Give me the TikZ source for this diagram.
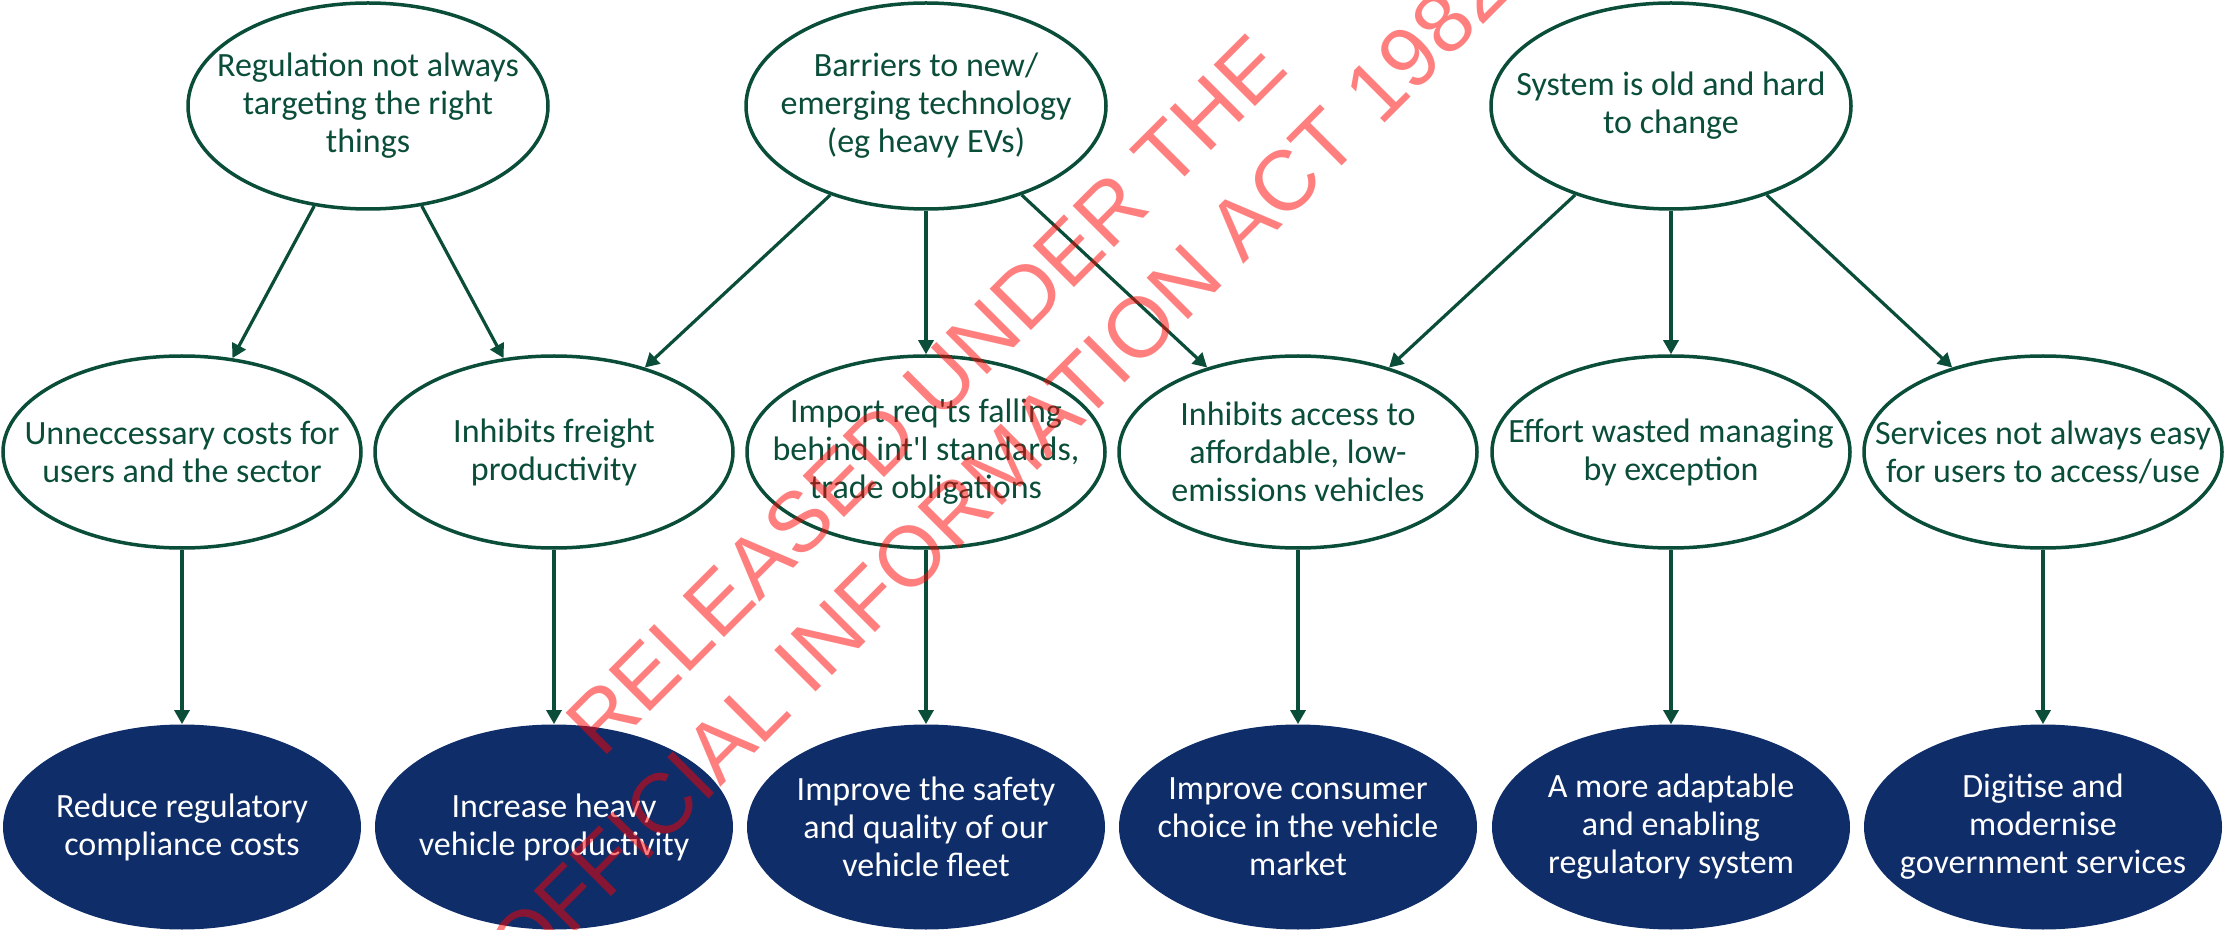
\documentclass[tikz,border=0pt]{standalone}
\usepackage{fontspec}
\setmainfont{Carlito}
\newfontfamily\stampfont{Liberation Sans}
\usetikzlibrary{shapes.geometric,arrows.meta}
\definecolor{dkgreen}{HTML}{0A4D38}
\definecolor{navy}{HTML}{0F2D69}
\begin{document}
\begin{tikzpicture}[x=0.5pt,y=-0.5pt,
  issuetop/.style={ellipse, draw=dkgreen, line width=1.75pt, fill=white,
    minimum width=180pt, minimum height=103pt, inner sep=0pt},
  issuemid/.style={ellipse, draw=dkgreen, line width=1.75pt, fill=white,
    minimum width=179pt, minimum height=96pt, inner sep=0pt},
  outcome/.style={ellipse, fill=navy, draw=none,
    minimum width=179pt, minimum height=102.5pt, inner sep=0pt},
  greentext/.style={text=dkgreen, align=center, inner sep=0pt,
    font=\fontsize{17}{19}\selectfont},
  whitetext/.style={text=white, align=center, inner sep=0pt,
    font=\fontsize{17}{19}\selectfont},
  conn/.style={draw=dkgreen, line width=1.6pt,
    -{Triangle[width=7.5pt,length=7pt]}},
  stamp/.style={text=red, text opacity=0.5, inner sep=0pt, rotate=45,
    anchor=base west, font=\stampfont\fontsize{42.5}{42.5}\selectfont}
]
\useasboundingbox (0,0) rectangle (2228,930);

% problem statements (top row)
\node[issuetop] (e1) at (368,106) {};
\node[issuetop] (e2) at (926,106) {};
\node[issuetop] (e3) at (1671,106) {};
\node[greentext] (e1t) at (e1) {Regulation not always\\targeting the right\\things};
\node[greentext] (e2t) at (e2) {Barriers to new/\\emerging technology\\(eg heavy EVs)};
\node[greentext] (e3t) at (e3) {System is old and hard\\to change};

% consequences (middle row)
\node[issuemid] (m1) at (182,452) {};
\node[issuemid] (m2) at (554,452) {};
\node[issuemid] (m3) at (926,452) {};
\node[issuemid] (m4) at (1298,452) {};
\node[issuemid] (m5) at (1671,452) {};
\node[issuemid] (m6) at (2043,452) {};
\node[greentext] (m1t) at (m1) {Unneccessary costs for\\users and the sector};
\node[greentext] (m2t) at (m2) {Inhibits freight\\productivity};
\node[greentext] (m3t) at (m3) {Import req\textquotesingle ts falling\\behind int\textquotesingle l standards,\\trade obligations};
\node[greentext] (m4t) at (m4) {Inhibits access to\\affordable, low-\\emissions vehicles};
\node[greentext] (m5t) at (m5) {Effort wasted managing\\by exception};
\node[greentext] (m6t) at (m6) {Services not always easy\\for users to access/use};

% objectives (bottom row)
\node[outcome] (b1) at (182,827) {};
\node[outcome] (b2) at (554,827) {};
\node[outcome] (b3) at (926,827) {};
\node[outcome] (b4) at (1298,827) {};
\node[outcome] (b5) at (1671,827) {};
\node[outcome] (b6) at (2043,827) {};
\node[whitetext] (b1t) at (b1) {Reduce regulatory\\compliance costs};
\node[whitetext] (b2t) at (b2) {Increase heavy\\vehicle productivity};
\node[whitetext] (b3t) at (b3) {Improve the safety\\and quality of our\\vehicle fleet};
\node[whitetext] (b4t) at (b4) {Improve consumer\\choice in the vehicle\\market};
\node[whitetext] (b5t) at (b5) {A more adaptable\\and enabling\\regulatory system};
\node[whitetext] (b6t) at (b6) {Digitise and\\modernise\\government services};

% links
\draw[conn] (e1) -- (m1);
\draw[conn] (e1) -- (m2);
\draw[conn] (e2) -- (m2);
\draw[conn] (e2) -- (m3);
\draw[conn] (e2) -- (m4);
\draw[conn] (e3) -- (m4);
\draw[conn] (e3) -- (m5);
\draw[conn] (e3) -- (m6);
\draw[conn] (m1) -- (b1);
\draw[conn] (m2) -- (b2);
\draw[conn] (m3) -- (b3);
\draw[conn] (m4) -- (b4);
\draw[conn] (m5) -- (b5);
\draw[conn] (m6) -- (b6);

% release stamp
\begin{scope}
\clip (0,0) rectangle (2228,930);
\node[stamp] (s1) at (602,760) {RELEASED UNDER THE};
\node[stamp] (s2) at (523,985) {OFFICIAL INFORMATION ACT 1982};
\end{scope}
\end{tikzpicture}
\end{document}
